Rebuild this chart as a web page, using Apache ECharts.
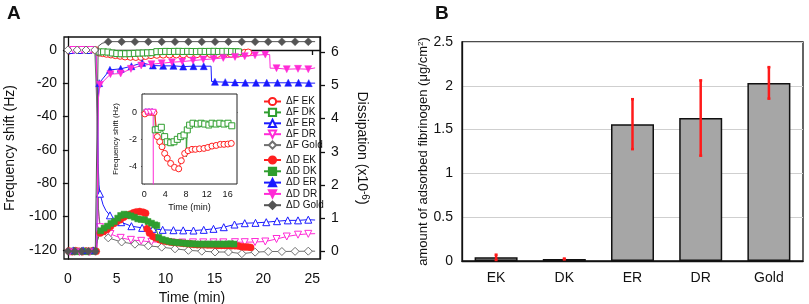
<!DOCTYPE html>
<html><head><meta charset="utf-8">
<script src="https://cdn.jsdelivr.net/npm/echarts@6/dist/echarts.min.js"></script>
<style>html,body{margin:0;padding:0;background:#fff}#c{width:809px;height:304px}</style>
</head><body><div id="c"></div>
<script>
// ---------- Panel A main: frequency shift (Hz), open markers ----------
const fEkT = [0.15,1.05,1.95,2.8,3.02,3.2,3.55,3.95,4.4,4.85,5.35,5.85,6.4,6.95,7.5,7.95,8.5,9.1,9.75,10.4,11.1,11.8,12.5,13.2,13.9,14.6,15.3,16.0,16.7,17.4,18.1,18.45];
const fEkV = [-0.3,0,0,0,-0.8,-1.6,-1.9,-2.3,-2.7,-3.1,-3.5,-3.9,-4.1,-4.2,-4.2,-3.6,-3.1,-2.9,-2.8,-2.75,-2.7,-2.65,-2.6,-2.55,-2.5,-2.45,-2.4,-2.35,-2.3,-2.2,-1.7,-1.5];
const fEkHide = [3.02];
const fDkT = [0.4,1.3,2.2,3.02,3.2,3.65,4.1,4.55,5.0,5.45,5.9,6.35,6.8,7.25,7.7,8.15,8.6,8.98,9.02,9.1,9.55,10.0,10.45,10.9,11.35,11.8,12.25,12.7,13.15,13.6,14.05,14.5,14.95,15.4,15.85,16.3,16.75,17.2,17.45];
const fDkV = [0,0,0,-0.5,-1.2,-1.1,-1.25,-1.8,-2.15,-2.25,-2.25,-2.2,-2.05,-1.9,-1.8,-1.7,-1.6,-1.55,-3.3,-1.0,-0.95,-0.85,-0.9,-0.85,-0.82,-0.88,-0.85,-0.9,-0.95,-0.85,-0.88,-0.85,-0.82,-0.88,-0.85,-0.85,-0.95,-1.0,-1.1];
const fDkHide = [0.4,1.3,2.2,3.02,8.98,9.02];
const fErT = [0.3,1.2,2.1,2.85,3.02,3.1,3.18,3.28,3.6,3.9,4.3,4.85,5.45,6.5,7.6,8.7,9.7,10.8,11.8,12.85,13.9,14.9,15.95,17.05,18.1,19.2,20.3,21.4,22.5,23.55,24.6,25.3];
const fErV = [0,0,0,0,-35,-68,-81,-86.3,-93,-96.5,-99.3,-101.8,-103.4,-105.8,-106.8,-107.4,-108,-108.2,-108.3,-108.4,-108,-107.4,-106.4,-104.8,-104,-103.8,-103.4,-102.8,-102.3,-102.3,-101.9,-102.1];
const fErHide = [2.85,3.02,3.1,3.18,3.6,3.9,4.85,25.3];
const fDrT = [0.55,1.45,2.35,2.9,3.05,3.15,3.28,4.35,5.4,6.45,7.5,8.55,9.6,10.65,11.7,12.8,13.85,14.9,15.9,17.1,18.1,19.15,20.2,21.35,22.4,23.55,24.6,25.3];
const fDrV = [0,0,0,0,-60,-100,-106.4,-110.5,-112.8,-114,-114.6,-115.2,-115.5,-115.6,-115.6,-115.5,-115.5,-115.5,-115.5,-115.4,-115.4,-115.3,-115,-113.5,-112,-110.9,-110.4,-110.3];
const fDrHide = [2.9,3.05,3.15,25.3];
const fGoT = [0,0.95,1.85,2.75,3.0,3.12,3.3,3.7,4.13,5.5,6.86,8.23,9.6,10.96,12.33,13.7,15.06,16.43,17.8,19.16,20.5,21.9,23.25,24.6,25.3];
const fGoV = [0,0,0,0,-40,-95,-106,-110,-112.8,-115.3,-116.6,-117.6,-118.4,-119.4,-120.3,-120.8,-121.3,-121.3,-122.3,-121.4,-121,-121,-120.9,-120.8,-120.8];
const fGoHide = [3.0,3.12,3.3,3.7,25.3];

// ---------- Panel A main: dissipation (x1e-6), filled markers ----------
const dEkT = [0.1,0.45,0.8,1.15,1.5,1.85,2.2,2.55,2.9,3.05,3.3,3.65,4.0,4.35,4.7,5.0,5.35,5.7,6.0,6.35,6.7,7.0,7.35,7.7,7.95,8.1,8.35,8.7,9.0,9.4,9.75,10.1,10.45,10.8,11.15,11.5,11.85,12.2,12.55,12.9,13.25,13.6,13.95,14.3,14.65,15.0,15.35,15.7,16.05,16.4,16.75,17.1,17.45,17.8,18.1,18.4,18.7];
const dEkV = [0.01,-0.01,0.02,0,-0.01,0.01,0,0.02,0,0.45,0.55,0.6,0.66,0.75,0.84,0.9,0.95,1.03,1.08,1.12,1.16,1.19,1.2,1.18,1.15,0.68,0.55,0.45,0.4,0.35,0.32,0.3,0.28,0.27,0.26,0.25,0.24,0.23,0.22,0.21,0.2,0.2,0.2,0.19,0.19,0.19,0.18,0.18,0.18,0.18,0.17,0.17,0.16,0.14,0.13,0.13,0.12];
const dEkHide = [3.05];
const dDkT = [0.25,0.6,0.95,1.3,1.65,2.0,2.35,2.7,3.0,3.35,3.7,4.05,4.4,4.75,5.1,5.4,5.75,6.1,6.45,6.8,7.15,7.5,7.85,8.2,8.55,8.9,9.1,9.3,9.65,10.0,10.35,10.7,11.05,11.4,11.75,12.1,12.45,12.8,13.15,13.5,13.85,14.2,14.55,14.9,15.25,15.6,15.95,16.3,16.65,17.0];
const dDkV = [0,0.01,-0.01,0,0.01,-0.01,0,0.01,0.3,0.62,0.7,0.76,0.84,0.9,1.0,1.08,1.12,1.1,1.07,1.03,0.98,0.96,0.95,0.9,0.85,0.8,0.78,0.42,0.36,0.33,0.3,0.28,0.27,0.26,0.25,0.24,0.23,0.23,0.22,0.22,0.22,0.22,0.22,0.22,0.22,0.22,0.22,0.22,0.23,0.22];
const dDkHide = [3.0];
const dErT = [0.55,1.55,2.6,2.95,3.1,3.2,4.3,5.4,6.5,7.6,8.7,9.75,10.8,11.8,12.85,13.9,14.65,14.7,15.05,16.1,17.1,18.15,19.25,20.35,21.45,22.55,23.6,24.65,25.3];
const dErV = [0.03,0.03,0.03,0.03,4.6,5.07,5.47,5.5,5.58,5.68,5.6,5.59,5.59,5.57,5.58,5.58,5.58,5.12,5.11,5.1,5.09,5.08,5.08,5.08,5.08,5.08,5.08,5.07,5.07];
const dErHide = [2.95,3.1,14.65,14.7,25.3];
const dDrT = [0.2,1.2,2.25,2.95,3.12,3.28,4.35,5.4,6.45,7.5,8.55,9.6,10.65,11.7,12.8,13.85,14.9,15.9,17.1,18.1,19.15,20.2,20.65,20.7,21.35,22.4,23.55,24.6,25.3];
const dDrV = [-0.02,-0.02,-0.02,-0.02,4.6,5.02,5.34,5.36,5.5,5.6,5.64,5.67,5.7,5.72,5.75,5.78,5.8,5.83,5.86,5.88,5.91,5.93,5.93,5.52,5.52,5.49,5.5,5.49,5.53];
const dDrHide = [2.95,3.12,20.65,20.7,25.3];
const dGoT = [0,0.7,1.4,2.1,2.8,2.98,3.1,3.5,4.13,5.5,6.86,8.23,9.6,10.96,12.33,13.7,15.06,16.43,17.8,19.16,20.5,21.9,23.25,24.6,25.3];
const dGoV = [0,0,0,0,0,0,6.18,6.27,6.32,6.32,6.32,6.32,6.32,6.32,6.32,6.32,6.32,6.32,6.32,6.32,6.32,6.32,6.32,6.32,6.32];
const dGoHide = [2.98,3.1,3.5,25.3];

// ---------- Inset: frequency shift (Hz) ----------
const iEkT = [0.1,0.7,1.3,1.85,2.05,2.5,2.95,3.4,3.9,4.4,5.05,5.8,6.6,7.1,7.75,8.4,9.15,9.8,10.6,11.45,12.2,13.0,13.8,14.6,15.3,16.05,16.7];
const iEkV = [-0.12,0,0,-0.02,-0.3,-1.8,-2.18,-2.55,-3.04,-3.4,-3.78,-4.07,-4.18,-3.58,-3.04,-2.84,-2.74,-2.74,-2.7,-2.67,-2.6,-2.5,-2.45,-2.37,-2.37,-2.35,-2.3];
const iEkHide = [2.05];
const iDkT = [0.4,1.0,1.6,2.05,2.1,2.63,3.26,3.9,4.4,5.07,5.7,6.33,6.98,7.62,8.04,8.06,8.25,8.7,9.35,10.2,10.9,11.6,12.4,13.0,13.8,14.5,15.3,16.07,16.8];
const iDkV = [0,0,0,0,-1.3,-1.26,-1.11,-1.8,-2.18,-2.25,-2.18,-2.0,-1.8,-1.68,-1.55,-3.3,-1.3,-0.95,-0.81,-0.87,-0.81,-0.87,-0.94,-0.81,-0.87,-0.81,-0.87,-0.81,-1.0];
const iDkHide = [0.4,1.0,1.6,2.05,8.04,8.06];
const iErT = [0.3,0.9,1.5];
const iErV = [0.05,0.05,0.05];
const iErHide = [];
const iDrT = [0.5,1.1,1.7,2.05,2.05];
const iDrV = [0,0,0,0,-100];
const iDrHide = [2.05];
const iGoT = [0,0.6,1.2,1.8];
const iGoV = [0,0,0,0];
const iGoHide = [];

// ---------- Axis ticks / labels ----------
const timeTicks = [0,5,10,15,20,25];
const freqTicks = [-120,-100,-80,-60,-40,-20,0];
const dissTicks = [0,1,2,3,4,5,6];
const insetTimeTicks = [0,2,4,6,8,10,12,14,16];
const insetTimeLabels = [0,4,8,12,16];
const insetFreqTicks = [-4,-2,0];

// ---------- Panel B ----------
const cats = ['EK','DK','ER','DR','Gold'];
const barVals = [0.042,0.023,1.562,1.632,2.033];
const barErr = [0.03,0.005,0.285,0.43,0.18];

const FONT = 'Liberation Sans, Arial, Helvetica, sans-serif';
const C = {red:'#ff2020', green:'#2f9e2f', blue:'#1a1aff', mag:'#ff2bd6', gray:'#707070', dgray:'#555555'};

function pts(T, V, hide) {
  return T.map((t, i) => (hide.indexOf(t) >= 0) ? {value:[t, V[i]], symbol:'none'} : [t, V[i]]);
}
function mk(name, T, V, hide, color, symbol, filled, xi, yi, size, rot) {
  return {
    name, type:'line', xAxisIndex:xi, yAxisIndex:yi, data:pts(T, V, hide),
    symbol, symbolSize:size, symbolRotate:rot || 0, showSymbol:true, showAllSymbol:true,
    lineStyle:{color, width:1}, itemStyle: filled ? {color, borderColor:color, borderWidth:0.5} : {color:'#fff', borderColor:color, borderWidth:1},
    emphasis:{disabled:true}, animation:false, z: filled ? 4 : 3
  };
}
const ax = {color:'#111', width:1.3};
const legendText = {fontSize:10, color:'#111', lineHeight:10, fontFamily:FONT};

const option = {
  animation:false,
  textStyle:{fontFamily:FONT},
  title:[
    {text:'A', left:7, top:4, padding:0, textStyle:{fontSize:19, fontWeight:'bold', color:'#111', fontFamily:FONT}},
    {text:'B', left:435, top:4, padding:0, textStyle:{fontSize:19, fontWeight:'bold', color:'#111', fontFamily:FONT}}
  ],
  legend:[
    {data:['ΔF EK','ΔF DK','ΔF ER','ΔF DR','ΔF Gold'], orient:'vertical', left:263, top:96.5, itemWidth:17, itemHeight:9, itemGap:0.9, padding:0, textStyle:legendText},
    {data:['ΔD EK','ΔD DK','ΔD ER','ΔD DR','ΔD Gold'], orient:'vertical', left:263, top:155, itemWidth:17, itemHeight:9, itemGap:1.3, padding:0, textStyle:legendText}
  ],
  grid:[
    {left:64, top:37, width:256, height:222, show:true, borderColor:'#111', borderWidth:1.3, backgroundColor:'transparent', outerBoundsMode:'none', containLabel:false},
    {left:142, top:94, width:95, height:90, show:true, borderColor:'#222', borderWidth:1, backgroundColor:'#fff', z:1, outerBoundsMode:'none', containLabel:false},
    {left:462, top:42, width:341, height:219, show:true, borderColor:'#111', borderWidth:1.3, outerBoundsMode:'none', containLabel:false}
  ],
  xAxis:[
    {gridIndex:0, type:'value', min:-0.4, max:25.8, axisLine:{lineStyle:ax},
     axisTick:{show:true, inside:false, length:5, lineStyle:ax, customValues:timeTicks},
     axisLabel:{customValues:timeTicks, fontSize:14, color:'#111', margin:13},
     splitLine:{show:false}, name:'Time (min)', nameLocation:'middle', nameGap:26,
     nameTextStyle:{fontSize:14, color:'#111'}},
    {gridIndex:1, type:'value', min:-0.45, max:17.8, axisLine:{lineStyle:{color:'#222', width:1}},
     axisTick:{show:true, length:3, lineStyle:{color:'#222'}, customValues:insetTimeTicks},
     axisLabel:{customValues:insetTimeLabels, fontSize:9, color:'#111', margin:6},
     splitLine:{show:false}, name:'Time (min)', nameLocation:'middle', nameGap:19,
     nameTextStyle:{fontSize:9, color:'#111'}},
    {gridIndex:2, type:'category', data:cats, axisLine:{lineStyle:ax}, axisTick:{show:false},
     axisLabel:{fontSize:14, color:'#111', margin:10}}
  ],
  yAxis:[
    {gridIndex:0, type:'value', min:-125.5, max:7.8, position:'left', axisLine:{show:true, lineStyle:ax},
     axisTick:{show:true, length:5, lineStyle:ax, customValues:freqTicks},
     axisLabel:{customValues:freqTicks, fontSize:14, color:'#111', margin:7},
     splitLine:{show:false}, name:'Frequency shift (Hz)', nameLocation:'middle', nameGap:47,
     nameTextStyle:{fontSize:14, color:'#111'}},
    {gridIndex:0, type:'value', min:-0.23, max:6.46, position:'right', axisLine:{show:true, lineStyle:ax},
     axisTick:{show:true, length:5, lineStyle:ax, customValues:dissTicks},
     axisLabel:{customValues:dissTicks, fontSize:14, color:'#111', margin:11},
     splitLine:{show:false}, name:'Dissipation (x10{sup|-6})', nameLocation:'middle', nameGap:34, nameRotate:-90,
     nameTextStyle:{fontSize:14, color:'#111', rich:{sup:{fontSize:10, verticalAlign:'top', color:'#111', padding:[0,0,6,0]}}}},
    {gridIndex:1, type:'value', min:-5.3, max:1.35, axisLine:{show:true, lineStyle:{color:'#222', width:1}},
     axisTick:{show:true, length:3, lineStyle:{color:'#222'}, customValues:insetFreqTicks},
     axisLabel:{customValues:insetFreqTicks, fontSize:9, color:'#111', margin:5},
     splitLine:{show:false}, name:'Frequency shift (Hz)', nameLocation:'middle', nameGap:22,
     nameTextStyle:{fontSize:8, color:'#111'}},
    {gridIndex:2, type:'value', min:0, max:2.5, interval:0.5, axisLine:{show:true, lineStyle:ax},
     axisTick:{show:false}, axisLabel:{fontSize:14, color:'#111', margin:9},
     splitLine:{show:true, lineStyle:{color:'#cfcfcf', width:1}},
     name:'amount of adsorbed fibrinogen (μg/cm{sup|2})', nameLocation:'middle', nameGap:31,
     nameTextStyle:{fontSize:13, color:'#111', rich:{sup:{fontSize:8, verticalAlign:'top', color:'#111', padding:[0,0,5,0]}}}}
  ],
  series:[
    mk('ΔF EK', fEkT, fEkV, fEkHide, C.red, 'circle', false, 0, 0, 7),
    mk('ΔF DK', fDkT, fDkV, fDkHide, C.green, 'rect', false, 0, 0, 6),
    mk('ΔF ER', fErT, fErV, fErHide, C.blue, 'triangle', false, 0, 0, 7),
    mk('ΔF DR', fDrT, fDrV, fDrHide, C.mag, 'triangle', false, 0, 0, 7, 180),
    mk('ΔF Gold', fGoT, fGoV, fGoHide, C.gray, 'diamond', false, 0, 0, 8),
    mk('ΔD EK', dEkT, dEkV, dEkHide, C.red, 'circle', true, 0, 1, 7),
    mk('ΔD DK', dDkT, dDkV, dDkHide, C.green, 'rect', true, 0, 1, 6),
    mk('ΔD ER', dErT, dErV, dErHide, C.blue, 'triangle', true, 0, 1, 7),
    mk('ΔD DR', dDrT, dDrV, dDrHide, C.mag, 'triangle', true, 0, 1, 7, 180),
    mk('ΔD Gold', dGoT, dGoV, dGoHide, C.dgray, 'diamond', true, 0, 1, 8),
    mk('ΔF Gold', iGoT, iGoV, iGoHide, C.gray, 'diamond', false, 1, 2, 6),
    mk('ΔF ER', iErT, iErV, iErHide, C.blue, 'triangle', false, 1, 2, 6),
    mk('ΔF DK', iDkT, iDkV, iDkHide, C.green, 'rect', false, 1, 2, 6),
    mk('ΔF EK', iEkT, iEkV, iEkHide, C.red, 'circle', false, 1, 2, 6),
    mk('ΔF DR', iDrT, iDrV, iDrHide, C.mag, 'triangle', false, 1, 2, 6, 180),
    {type:'bar', xAxisIndex:2, yAxisIndex:3, data:barVals, barWidth:43,
     itemStyle:{color:'#a6a6a6', borderColor:'#111', borderWidth:1.5}, emphasis:{disabled:true}, animation:false},
    {type:'custom', xAxisIndex:2, yAxisIndex:3, z:5, animation:false,
     data:cats.map((c,i)=>[i, barVals[i]-barErr[i], barVals[i]+barErr[i]]),
     renderItem:function(params, api){
       const lo = api.coord([api.value(0), api.value(1)]);
       const hi = api.coord([api.value(0), api.value(2)]);
       const s = {stroke:'#ff1a1a', lineWidth:2.5};
       return {type:'group', children:[
         {type:'line', shape:{x1:lo[0], y1:lo[1], x2:hi[0], y2:hi[1]}, style:s},
         {type:'line', shape:{x1:lo[0]-1.5, y1:lo[1], x2:lo[0]+1.5, y2:lo[1]}, style:s},
         {type:'line', shape:{x1:hi[0]-1.5, y1:hi[1], x2:hi[0]+1.5, y2:hi[1]}, style:s}
       ]};
     }}
  ]
};
const chart = echarts.init(document.getElementById('c'), null, {renderer:'canvas'});
chart.setOption(option);
</script></body></html>
